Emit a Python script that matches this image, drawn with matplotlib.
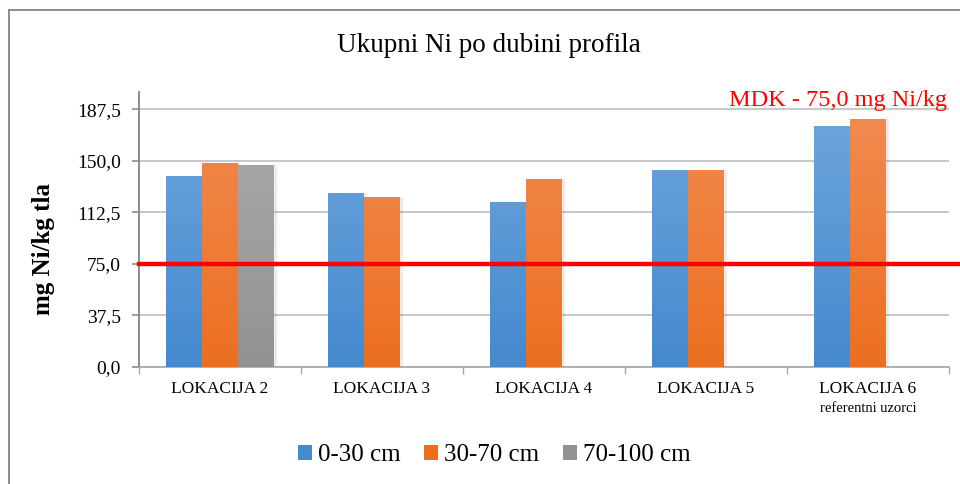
import numpy as np
import matplotlib
matplotlib.use('Agg')
import matplotlib.pyplot as plt
from matplotlib.lines import Line2D
from matplotlib.patches import Patch
from matplotlib.colors import LinearSegmentedColormap

plt.rcParams['font.family'] = ['Liberation Serif', 'DejaVu Serif']

categories = ['LOKACIJA 2', 'LOKACIJA 3', 'LOKACIJA 4', 'LOKACIJA 5', 'LOKACIJA 6']
subtitles = ['', '', '', '', 'referentni uzorci']
depth_labels = ['0-30 cm', '30-70 cm', '70-100 cm']
ni_0_30 = [138.8, 126.5, 119.9, 143.2, 175.3]
ni_30_70 = [148.3, 123.5, 136.6, 143.2, 180.2]
ni_70_100 = [146.8, np.nan, np.nan, np.nan, np.nan]
mdk_limit = 75.0
yticks = [0.0, 37.5, 75.0, 112.5, 150.0, 187.5]

# (top, bottom) of the vertical gradient for each series
shades = [('#70a8dd', '#4589cf'),
          ('#f28d55', '#ec6f20'),
          ('#adadad', '#929292')]

fig = plt.figure(figsize=(9.6, 4.84), dpi=100)
ax = fig.add_axes([0.1448, 0.2417, 0.8437, 0.5683])

x = np.arange(len(categories))
bw = 0.222
series = [ni_0_30, ni_30_70, ni_70_100]

for i, vals in enumerate(series):
    cmap = LinearSegmentedColormap.from_list('g%d' % i, [shades[i][1], shades[i][0]])
    grad = np.linspace(0, 1, 256).reshape(-1, 1)
    bars = ax.bar(x + (i - 1) * bw, np.nan_to_num(vals), bw, color='none',
                  lw=0, zorder=3)
    for b, v in zip(bars, vals):
        if np.isnan(v):
            continue
        x0, w = b.get_x(), b.get_width()
        # soft drop shadow to the right
        for k, a in enumerate([0.06, 0.04, 0.02]):
            ax.bar(x0 + w + 0.007 * k, v, 0.012, align='edge', color='k',
                   alpha=a, lw=0, zorder=2)
        im = ax.imshow(grad, cmap=cmap, aspect='auto', origin='lower',
                       extent=[x0, x0 + w, 0, 200], zorder=3)
        im.set_clip_path(b)

ax.set_xlim(-0.5, len(categories) - 0.5)
ax.set_ylim(0, 200)

ax.axhline(mdk_limit, xmin=0, xmax=(960 - 139) / 810.0, color='#ff0000',
           lw=3.2, clip_on=False, zorder=5)
ax.text(0.998, 0.93, 'MDK - 75,0 mg Ni/kg', transform=ax.transAxes,
        color='#ff0000', fontsize=17.5, ha='right', va='bottom')

ax.set_yticks(yticks)
ax.set_yticklabels([('%.1f' % t).replace('.', ',') for t in yticks], fontsize=14)
ax.yaxis.grid(True, color='#bfbfbf', lw=1.2, zorder=0)
ax.set_axisbelow(True)
ax.tick_params(axis='y', length=5, width=1.2, color='#8c8c8c', pad=8)

ax.set_xticks(x)
ax.set_xticklabels(categories, fontsize=12.5)
ax.set_xticks(np.arange(len(categories) + 1) - 0.5, minor=True)
ax.tick_params(axis='x', which='major', length=0, pad=10)
ax.tick_params(axis='x', which='minor', length=5, width=1, color='#a6a6a6')
for xi, sub in zip(x, subtitles):
    if sub:
        ax.annotate(sub, (xi, 0), xycoords=('data', 'axes fraction'),
                    xytext=(0, -25), textcoords='offset points',
                    ha='center', va='top', fontsize=10.5)

for s in ['top', 'right']:
    ax.spines[s].set_visible(False)
ax.spines['left'].set_color('#8c8c8c')
ax.spines['left'].set_linewidth(1.4)
ax.spines['bottom'].set_color('#a6a6a6')
ax.spines['bottom'].set_linewidth(1.2)

ax.set_ylabel('mg Ni/kg tla', fontsize=18, fontweight='bold')
ax.yaxis.set_label_coords(-0.1037, (367 - 249) / 275.0)

fig.text(0.509, 0.905, 'Ukupni Ni po dubini profila', ha='center', va='center',
         fontsize=19.5)

handles = [Patch(facecolor=shades[i][1], edgecolor='none') for i in range(3)]
fig.legend(handles, depth_labels, loc='center', bbox_to_anchor=(0.515, 0.06),
           ncol=3, frameon=False, fontsize=18, handlelength=0.55,
           handleheight=0.55, handletextpad=0.25, columnspacing=0.95)

# outer chart border
fig.add_artist(Line2D([9 / 960, 1], [1 - 10 / 484, 1 - 10 / 484],
                      transform=fig.transFigure, color='#8c8c8c', lw=1.4))
fig.add_artist(Line2D([9 / 960, 9 / 960], [0, 1 - 10 / 484],
                      transform=fig.transFigure, color='#8c8c8c', lw=1.4))

fig.savefig('out.png', dpi=100)
